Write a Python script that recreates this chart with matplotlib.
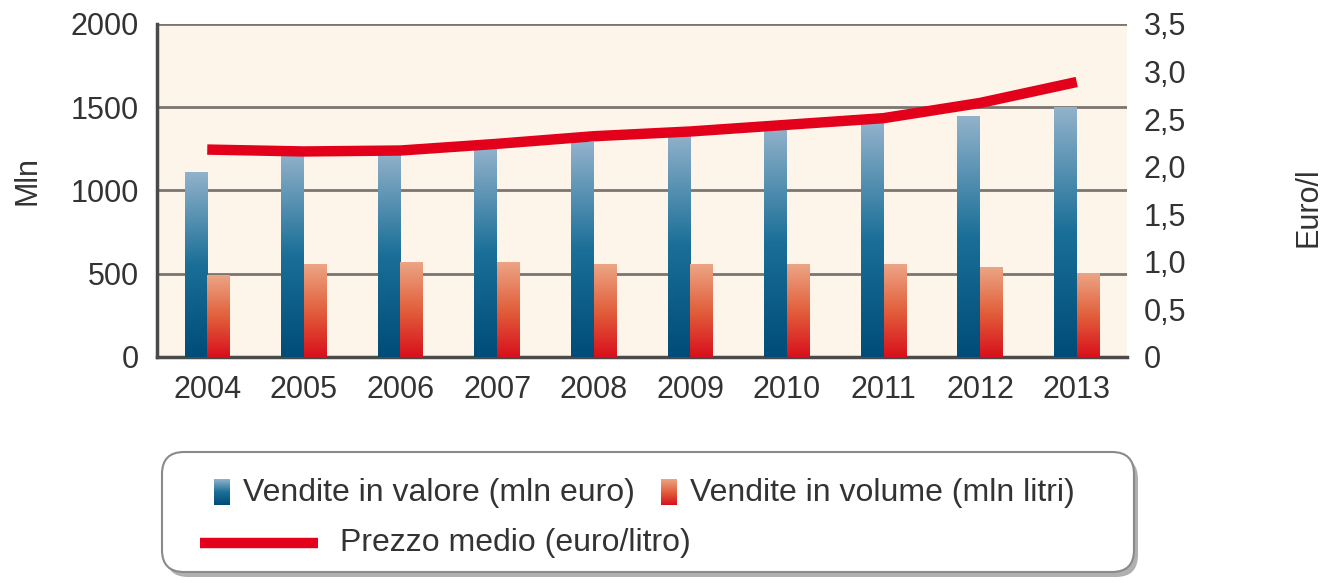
import numpy as np
import matplotlib
matplotlib.use("Agg")
import matplotlib.pyplot as plt
from matplotlib.colors import LinearSegmentedColormap
from matplotlib.patches import FancyBboxPatch

plt.rcParams['font.family'] = ['Liberation Sans', 'DejaVu Sans']

# dati
anni = ['2004', '2005', '2006', '2007', '2008', '2009', '2010', '2011', '2012', '2013']
valore = [1110, 1230, 1230, 1250, 1290, 1340, 1380, 1410, 1445, 1500]
volume = [490, 555, 570, 570, 555, 555, 555, 555, 540, 500]
prezzo = [2.18, 2.16, 2.17, 2.24, 2.32, 2.37, 2.44, 2.51, 2.67, 2.89]

testo = '#333333'
cm_blu = LinearSegmentedColormap.from_list('blu', ['#004c78', '#1a6f98', '#92b2cb'])
cm_ros = LinearSegmentedColormap.from_list('ros', ['#d8101c', '#e2603c', '#eca585'])
grad = np.linspace(0, 1, 256).reshape(-1, 1)

fig = plt.figure(figsize=(13.34, 5.83), dpi=100)
ax = fig.add_axes([0.1177, 0.3877, 0.7271, 0.5712])
ax.set_facecolor('#fdf5ea')

w = 0.235
x = np.arange(len(anni))
for i in x:
    ax.imshow(grad, extent=[i - w, i, 0, valore[i]], origin='lower', cmap=cm_blu,
              aspect='auto', zorder=3)
    ax.imshow(grad, extent=[i, i + w, 0, volume[i]], origin='lower', cmap=cm_ros,
              aspect='auto', zorder=3)

ax.set_xlim(-0.52, 9.52)
ax.set_ylim(0, 2000)
ax.set_yticks([0, 500, 1000, 1500, 2000])
ax.set_xticks(x)
ax.set_xticklabels(anni)
ax.grid(axis='y', color='#7a7570', linewidth=2, zorder=1)
ax.set_axisbelow(True)
ax.tick_params(length=0, labelsize=22, colors=testo)
ax.tick_params(axis='y', pad=13)
ax.tick_params(axis='x', pad=13)
for s in ['top', 'right']:
    ax.spines[s].set_visible(False)
ax.spines['left'].set_color('#4a4a4a')
ax.spines['left'].set_linewidth(2.5)
ax.spines['bottom'].set_color('#4a4a4a')
ax.spines['bottom'].set_linewidth(2.5)
ax.set_ylabel('Mln', fontsize=22, color=testo)
ax.yaxis.set_label_coords(-0.118, 0.53)

ax2 = ax.twinx()
ax2.plot(x, prezzo, color='#e2001a', linewidth=7.5, solid_capstyle='butt', zorder=5)
ax2.set_ylim(0, 3.5)
tk = np.arange(0, 3.51, 0.5)
ax2.set_yticks(tk)
ax2.set_yticklabels(['0'] + [f'{t:.1f}'.replace('.', ',') for t in tk[1:]])
ax2.tick_params(length=0, labelsize=22, colors=testo, pad=12)
for s in ax2.spines.values():
    s.set_visible(False)
ax2.set_ylabel('Euro/l', fontsize=22, color=testo)
ax2.yaxis.set_label_coords(1.172, 0.45)

# legenda disegnata a mano
lg = fig.add_axes([0, 0, 1, 1], zorder=-1)
lg.axis('off')
lg.add_patch(FancyBboxPatch((166, 457), 972, 120, boxstyle='round,pad=0,rounding_size=22',
                            facecolor='#b0b0b0', edgecolor='none', zorder=1))
lg.add_patch(FancyBboxPatch((162, 452), 972, 120, boxstyle='round,pad=0,rounding_size=22',
                            facecolor='white', edgecolor='#8a8a8a', linewidth=1.5, zorder=1))
lg.imshow(grad, extent=[214, 230, 505, 479], origin='lower', cmap=cm_blu, aspect='auto', zorder=3)
lg.imshow(grad, extent=[661, 677, 505, 479], origin='lower', cmap=cm_ros, aspect='auto', zorder=3)
lg.plot([200, 318], [543, 543], color='#e2001a', linewidth=7.5, solid_capstyle='butt', zorder=3)
lg.text(243, 493, 'Vendite in valore (mln euro)', fontsize=23, color=testo, va='center', zorder=3)
lg.text(690, 493, 'Vendite in volume (mln litri)', fontsize=23, color=testo, va='center', zorder=3)
lg.text(340, 543, 'Prezzo medio (euro/litro)', fontsize=23, color=testo, va='center', zorder=3)
lg.set_xlim(0, 1334)
lg.set_ylim(583, 0)

fig.savefig('out.png', dpi=100)
